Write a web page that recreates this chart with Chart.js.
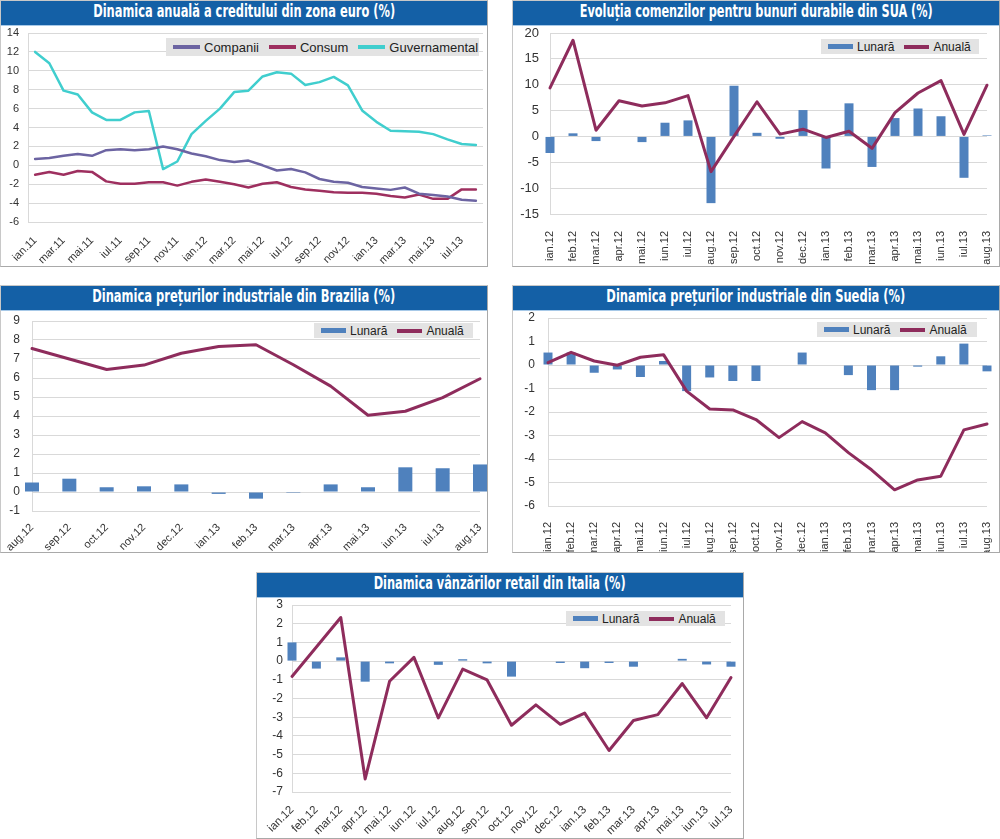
<!DOCTYPE html>
<html>
<head>
<meta charset="utf-8">
<script src="https://cdn.jsdelivr.net/npm/chart.js@4.4.0/dist/chart.umd.min.js"></script>
<style>
  body { margin: 0; width: 1000px; height: 839px; background: #fff; position: relative; overflow: hidden; font-family: "Liberation Sans", Arial, sans-serif; }
  .panel { position: absolute; box-sizing: border-box; background: #fff; border: 1px solid #c8c8c8; border-right-color: #a9a9a9; border-bottom-color: #a9a9a9; }
  .title { position: absolute; left: 0; right: 0; top: 0; height: 24px; background: #1460a6; border-bottom: 1px solid #a7c9e8; text-align: center; line-height: 25px; color: #fff; font: bold 17px "Liberation Sans Narrow", "DejaVu Sans Condensed", sans-serif; white-space: nowrap; overflow: hidden; }
  .title span { display: inline-block; transform-origin: 50% 50%; }
  .box { position: absolute; left: 0; right: 0; top: 25px; bottom: 0; }
  .legend { position: absolute; background: #e3e3e3; display: flex; align-items: center; box-sizing: border-box; padding-left: 7px; color: #222; white-space: nowrap; }
  .legend .item { display: flex; align-items: center; margin-right: 10px; }
  .legend .sw { display: inline-block; width: 25px; margin-right: 4px; }
</style>
</head>
<body>
<script>
// Dinamica anuala a creditului din zona euro
const creditLabels = ['ian.11','feb.11','mar.11','apr.11','mai.11','iun.11','iul.11','aug.11','sep.11','oct.11','nov.11','dec.11',
  'ian.12','feb.12','mar.12','apr.12','mai.12','iun.12','iul.12','aug.12','sep.12','oct.12','nov.12','dec.12',
  'ian.13','feb.13','mar.13','apr.13','mai.13','iun.13','iul.13','aug.13'];
const companii = [0.67,0.77,1.0,1.2,1.0,1.6,1.7,1.6,1.7,2.0,1.7,1.25,0.95,0.55,0.35,0.5,0.0,-0.55,-0.4,-0.75,-1.45,-1.75,-1.85,-2.3,-2.45,-2.6,-2.35,-3.0,-3.15,-3.3,-3.65,-3.75];
const consum = [-1.0,-0.7,-1.0,-0.6,-0.7,-1.7,-1.95,-1.95,-1.8,-1.8,-2.15,-1.75,-1.5,-1.75,-2.0,-2.35,-1.95,-1.8,-2.3,-2.55,-2.7,-2.85,-2.9,-2.9,-3.0,-3.25,-3.4,-3.1,-3.55,-3.55,-2.55,-2.55];
const guvernamental = [12.0,10.8,7.9,7.5,5.6,4.8,4.8,5.6,5.75,-0.4,0.4,3.3,4.7,6.0,7.75,7.9,9.4,9.85,9.7,8.5,8.8,9.35,8.45,5.8,4.6,3.65,3.6,3.55,3.3,2.75,2.25,2.15];
const creditTicks = [-6,-4,-2,0,2,4,6,8,10,12,14];

// Comenzi bunuri durabile SUA
const suaLabels = ['ian.12','feb.12','mar.12','apr.12','mai.12','iun.12','iul.12','aug.12','sep.12','oct.12','nov.12','dec.12',
  'ian.13','feb.13','mar.13','apr.13','mai.13','iun.13','iul.13','aug.13'];
const suaLunara = [-3.2,0.6,-0.9,0,-1.1,2.65,3.1,-12.9,9.8,0.7,-0.45,5.1,-6.2,6.4,-5.9,3.55,5.4,3.9,-8.0,0.2];
const suaAnuala = [9.4,18.6,1.2,6.9,5.9,6.5,7.9,-6.8,0.0,6.7,0.45,1.4,-0.2,1.0,-2.3,4.6,8.4,10.8,0.4,9.9];
const suaTicks = [-15,-10,-5,0,5,10,15,20];

// Preturi industriale Brazilia
const brLabels = ['aug.12','sep.12','oct.12','nov.12','dec.12','ian.13','feb.13','mar.13','apr.13','mai.13','iun.13','iul.13','aug.13'];
const brLunara = [0.5,0.7,0.25,0.3,0.4,-0.1,-0.35,-0.05,0.4,0.25,1.3,1.25,1.45];
const brAnuala = [7.55,7.0,6.45,6.68,7.3,7.66,7.75,6.7,5.57,4.04,4.25,4.97,5.96];
const brTicks = [-1,0,1,2,3,4,5,6,7,8,9];

// Preturi industriale Suedia
const seLabels = ['ian.12','feb.12','mar.12','apr.12','mai.12','iun.12','iul.12','aug.12','sep.12','oct.12','nov.12','dec.12',
  'ian.13','feb.13','mar.13','apr.13','mai.13','iun.13','iul.13','aug.13'];
const seLunara = [0.53,0.53,-0.33,-0.19,-0.51,0.17,-1.11,-0.53,-0.68,-0.68,0,0.53,0,-0.43,-1.07,-1.07,-0.07,0.37,0.91,-0.27];
const seAnuala = [0.1,0.54,0.17,-0.01,0.33,0.44,-1.11,-1.87,-1.91,-2.32,-3.09,-2.41,-2.89,-3.73,-4.46,-5.31,-4.89,-4.73,-2.76,-2.51];
const seTicks = [-6,-5,-4,-3,-2,-1,0,1,2];

// Vanzari retail Italia
const itLabels = ['ian.12','feb.12','mar.12','apr.12','mai.12','iun.12','iul.12','aug.12','sep.12','oct.12','nov.12','dec.12',
  'ian.13','feb.13','mar.13','apr.13','mai.13','iun.13','iul.13'];
const itLunara = [1.0,-0.4,0.2,-1.1,-0.12,0,-0.2,0.1,-0.12,-0.83,0,-0.1,-0.38,-0.1,-0.3,0,0.12,-0.18,-0.3];
const itAnuala = [-0.82,0.75,2.33,-6.3,-1.08,0.2,-3.04,-0.43,-1.01,-3.43,-2.34,-3.38,-2.78,-4.78,-3.18,-2.86,-1.2,-3.03,-0.88];
const itTicks = [-7,-6,-5,-4,-3,-2,-1,0,1,2,3];

const BLUE = '#4f81bd';
const WINE = '#8e2c5c';
const GRID = '#d9d9d9';
const TXT = '#333';

function barSet(label, data, thick) {
  return { type: 'bar', label, data, backgroundColor: BLUE, borderWidth: 0, inflateAmount: 0, barThickness: thick, clip: false, order: 2 };
}
function lineSet(label, data, color, width) {
  return { type: 'line', label, data, borderColor: color, backgroundColor: color, borderWidth: width,
    pointRadius: 0, tension: 0, borderJoinStyle: 'round', borderCapStyle: 'round', clip: false, order: 1, fill: false };
}

function makePanel(o) {
  const p = document.createElement('div');
  p.className = 'panel';
  p.style.left = o.x + 'px'; p.style.top = o.y + 'px';
  p.style.width = o.w + 'px'; p.style.height = o.h + 'px';
  const t = document.createElement('div');
  t.className = 'title';
  const s = document.createElement('span');
  s.textContent = o.title;
  t.appendChild(s);
  p.appendChild(t);
  const box = document.createElement('div');
  box.className = 'box';
  const cv = document.createElement('canvas');
  box.appendChild(cv);
  p.appendChild(box);
  document.body.appendChild(p);
  s.style.transform = 'scaleX(' + (o.titleW / s.getBoundingClientRect().width) + ')';

  const yt = o.yTicks;
  const chart = new Chart(cv, {
    type: 'bar',
    data: { labels: o.labels, datasets: o.datasets },
    options: {
      responsive: true, maintainAspectRatio: false, animation: false,
      layout: { padding: { top: o.pad[0], right: o.pad[1], bottom: 0, left: 0 } },
      plugins: { legend: { display: false }, tooltip: { enabled: false } },
      scales: {
        x: {
          offset: o.offset,
          grid: { display: false },
          border: { display: false },
          ticks: {
            autoSkip: false, minRotation: o.rot, maxRotation: o.rot, padding: o.xPad, color: TXT,
            font: { family: 'Liberation Sans', size: o.xFont },
            callback: function (v, i) { return (i % o.every === 0) ? this.getLabelForValue(v) : ''; }
          },
          // fixed axis band so the plot box lands where the original has it
          afterFit: (sc) => { sc.height = o.xH; sc.paddingLeft = 0; sc.paddingRight = 0; }
        },
        y: {
          min: yt[0], max: yt[yt.length - 1],
          ticks: { stepSize: yt[1] - yt[0], padding: o.yPad, color: TXT, font: { family: 'Liberation Sans', size: o.yFont } },
          grid: { color: GRID, drawTicks: false },
          border: { display: true, color: GRID },
          afterFit: (sc) => { sc.width = o.yW; sc.paddingTop = 0; sc.paddingBottom = 0; }
        }
      }
    }
  });

  // legend box drawn over the plot, built from the datasets
  const L = document.createElement('div');
  L.className = 'legend';
  L.style.left = o.leg[0] + 'px'; L.style.top = o.leg[1] + 'px';
  L.style.width = o.leg[2] + 'px'; L.style.height = o.leg[3] + 'px';
  L.style.fontSize = o.legFont + 'px';
  chart.data.datasets.forEach((ds) => {
    const it = document.createElement('div');
    it.className = 'item';
    const sw = document.createElement('span');
    sw.className = 'sw';
    sw.style.background = ds.type === 'bar' ? ds.backgroundColor : ds.borderColor;
    sw.style.height = (ds.type === 'bar' ? 5 : 4) + 'px';
    if (o.swW) sw.style.width = o.swW + 'px';
    const tx = document.createElement('span');
    tx.textContent = ds.label;
    it.appendChild(sw); it.appendChild(tx);
    L.appendChild(it);
  });
  p.appendChild(L);
}

makePanel({
  x: 0, y: 0, w: 488, h: 267, title: 'Dinamica anuală a creditului din zona euro (%)', titleW: 302,
  labels: creditLabels,
  datasets: [
    lineSet('Companii', companii, '#6c64a2', 2.5),
    lineSet('Consum', consum, '#9e2f5f', 2.5),
    lineSet('Guvernamental', guvernamental, '#40cece', 2.5)
  ],
  yTicks: creditTicks, offset: true, rot: 45, every: 2,
  pad: [7, 4], yW: 27, xH: 44, xPad: 4, yPad: 9, xFont: 11, yFont: 11,
  leg: [165, 37, 313, 18], legFont: 13, swW: 27
});

makePanel({
  x: 512, y: 0, w: 488, h: 267, title: 'Evoluția comenzilor pentru bunuri durabile din SUA (%)', titleW: 353,
  labels: suaLabels,
  datasets: [barSet('Lunară', suaLunara, 9), lineSet('Anuală', suaAnuala, WINE, 3)],
  yTicks: suaTicks, offset: false, rot: 90, every: 1,
  pad: [7, 12], yW: 37, xH: 52, xPad: 9, yPad: 11, xFont: 11, yFont: 13,
  leg: [308, 38, 158, 15], legFont: 12
});

makePanel({
  x: 0, y: 285, w: 488, h: 268, title: 'Dinamica prețurilor industriale din Brazilia (%)', titleW: 303,
  labels: brLabels,
  datasets: [barSet('Lunară', brLunara, 14), lineSet('Anuală', brAnuala, WINE, 3)],
  yTicks: brTicks, offset: false, rot: 45, every: 1,
  pad: [10, 7], yW: 31, xH: 41, xPad: 2, yPad: 12, xFont: 11, yFont: 12,
  leg: [313, 37, 159, 15], legFont: 12
});

makePanel({
  x: 512, y: 285, w: 488, h: 268, title: 'Dinamica prețurilor industriale din Suedia (%)', titleW: 299,
  labels: seLabels,
  datasets: [barSet('Lunară', seLunara, 9), lineSet('Anuală', seAnuala, WINE, 3)],
  yTicks: seTicks, offset: false, rot: 90, every: 1,
  pad: [7, 12], yW: 35, xH: 46, xPad: 8, yPad: 13, xFont: 11, yFont: 12,
  leg: [304, 36, 160, 15], legFont: 12
});

makePanel({
  x: 256, y: 572, w: 488, h: 267, title: 'Dinamica vânzărilor retail din Italia (%)', titleW: 252,
  labels: itLabels,
  datasets: [barSet('Lunară', itLunara, 9), lineSet('Anuală', itAnuala, WINE, 3)],
  yTicks: itTicks, offset: false, rot: 45, every: 1,
  pad: [7, 12], yW: 35, xH: 46, xPad: 3, yPad: 9, xFont: 11.5, yFont: 12,
  leg: [309, 38, 159, 15], legFont: 12
});
</script>
</body>
</html>
